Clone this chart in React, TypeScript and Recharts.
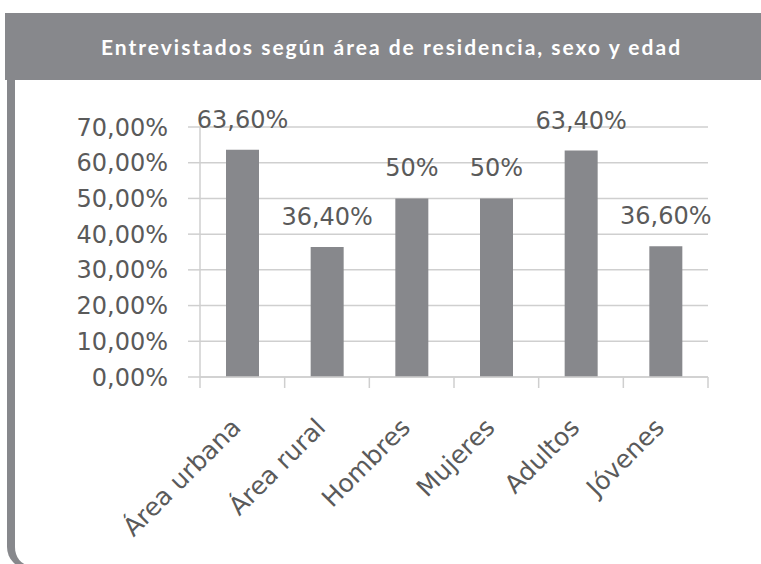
import { BarChart, Bar, XAxis, YAxis, CartesianGrid, LabelList } from 'recharts'

const categories = ['Área urbana', 'Área rural', 'Hombres', 'Mujeres', 'Adultos', 'Jóvenes']
const values = [63.6, 36.4, 50, 50, 63.4, 36.6]
const valueLabels = ['63,60%', '36,40%', '50%', '50%', '63,40%', '36,60%']
const yTicks = [0, 10, 20, 30, 40, 50, 60, 70]
const yTickLabels = ['0,00%', '10,00%', '20,00%', '30,00%', '40,00%', '50,00%', '60,00%', '70,00%']

const TITLE = 'Entrevistados según área de residencia, sexo y edad'

const W = 761
const H = 564
const PLOT_LEFT = 200
const PLOT_RIGHT = 708
const PLOT_TOP = 127
const PLOT_BOTTOM = 377
const X_AXIS_H = 100

const GRAY = '#87888c'
const TEXT = '#5a5a5a'
const GRID = '#cfcfcf'
const FONT = "'DejaVu Sans', sans-serif"

const data = categories.map((name, i) => ({ name, value: values[i], label: valueLabels[i] }))

const bandWidth = (PLOT_RIGHT - PLOT_LEFT) / categories.length

function XTick({ x, y, payload, index }: { x?: number; y?: number; payload?: { value: string }; index?: number }) {
  const cx = x ?? 0
  const cy = y ?? 0
  const isLast = index === categories.length - 1
  return (
    <g>
      {/* ticks sit on category boundaries, like the source */}
      <line x1={cx - bandWidth / 2} x2={cx - bandWidth / 2} y1={PLOT_BOTTOM} y2={PLOT_BOTTOM + 11} stroke={GRID} strokeWidth={1.5} />
      {isLast && (
        <line x1={cx + bandWidth / 2} x2={cx + bandWidth / 2} y1={PLOT_BOTTOM} y2={PLOT_BOTTOM + 11} stroke={GRID} strokeWidth={1.5} />
      )}
      <g transform={`translate(${cx},${cy + 44})`}>
        <text x={0} y={0} textAnchor="end" transform="rotate(-45)" fill={TEXT} fontFamily={FONT} fontSize={25}>
          {payload?.value}
        </text>
      </g>
    </g>
  )
}

export default function App() {
  return (
    <div style={{ position: 'absolute', left: 0, top: 0, width: W, height: H, background: '#fff', overflow: 'hidden' }}>
      {/* header band */}
      <div style={{
        position: 'absolute', left: 5, top: 13, width: W - 5, height: 67,
        background: GRAY, color: '#fff',
        display: 'flex', alignItems: 'center', justifyContent: 'center',
        fontFamily: "Lato, sans-serif", fontWeight: 700, fontSize: 21, letterSpacing: 2,
        paddingLeft: 17, boxSizing: 'border-box', whiteSpace: 'nowrap',
      }}>
        {TITLE}
      </div>
      {/* white panel, thick left border; bottom edge falls just outside the picture */}
      <div style={{
        position: 'absolute', left: 7, top: 80, width: W, height: H - 80 + 5,
        borderLeft: `8px solid ${GRAY}`, borderBottom: `4px solid ${GRAY}`,
        borderBottomLeftRadius: 22, boxSizing: 'border-box',
      }} />
      <div style={{ position: 'absolute', left: 0, top: 0 }}>
        <BarChart
          width={W}
          height={H}
          data={data}
          margin={{ top: PLOT_TOP, right: W - PLOT_RIGHT, left: 0, bottom: H - PLOT_BOTTOM - X_AXIS_H }}
        >
          <CartesianGrid vertical={false} stroke={GRID} strokeWidth={1.5} />
          <YAxis
            width={PLOT_LEFT}
            domain={[0, 70]}
            ticks={yTicks}
            interval={0}
            tickFormatter={(v: number) => yTickLabels[yTicks.indexOf(v)]}
            tick={{ fill: TEXT, fontFamily: FONT, fontSize: 24 }}
            tickSize={12}
            tickMargin={20}
            tickLine={{ stroke: GRID, strokeWidth: 1.5 }}
            axisLine={{ stroke: GRID, strokeWidth: 1.5 }}
          />
          <XAxis
            dataKey="name"
            height={X_AXIS_H}
            interval={0}
            tick={<XTick />}
            tickLine={false}
            axisLine={{ stroke: GRID, strokeWidth: 1.5 }}
          />
          <Bar dataKey="value" fill={GRAY} barSize={33} isAnimationActive={false}>
            <LabelList dataKey="label" position="top" offset={22} fill={TEXT} fontFamily={FONT} fontSize={24} />
          </Bar>
        </BarChart>
      </div>
    </div>
  )
}
